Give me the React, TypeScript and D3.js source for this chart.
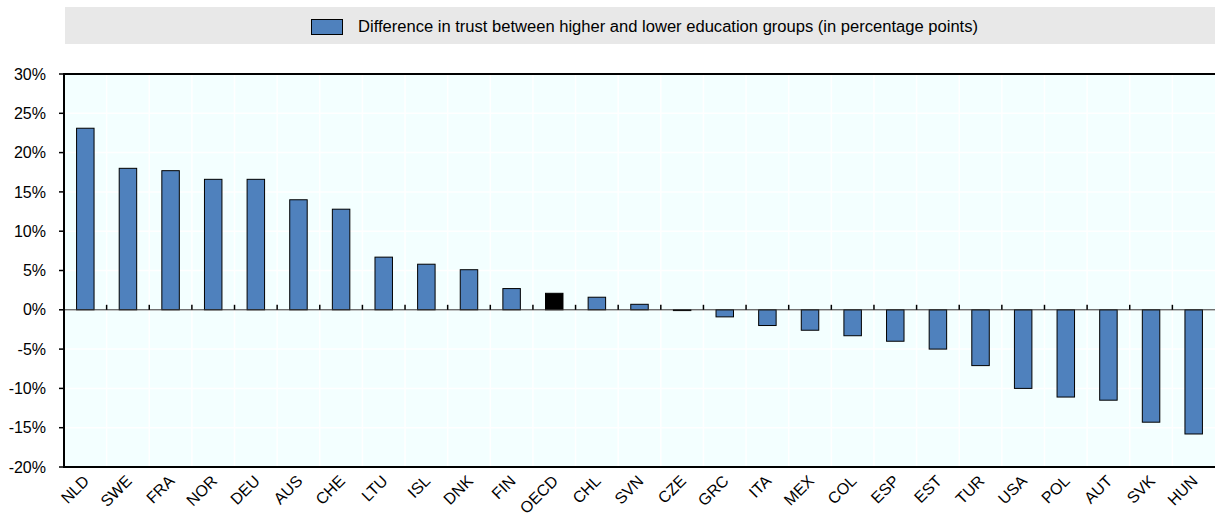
import { useEffect, useRef } from "react";
import * as d3 from "d3";

const categories = ["NLD", "SWE", "FRA", "NOR", "DEU", "AUS", "CHE", "LTU", "ISL", "DNK", "FIN", "OECD", "CHL", "SVN", "CZE", "GRC", "ITA", "MEX", "COL", "ESP", "EST", "TUR", "USA", "POL", "AUT", "SVK", "HUN"];
const values = [23.1, 18.0, 17.7, 16.6, 16.6, 14.0, 12.8, 6.7, 5.8, 5.1, 2.7, 2.1, 1.6, 0.7, -0.1, -0.9, -2.0, -2.6, -3.3, -4.0, -5.0, -7.1, -10.0, -11.1, -11.5, -14.3, -15.8];
const yTicks = [-20, -15, -10, -5, 0, 5, 10, 15, 20, 25, 30];
const legendLabel = "Difference in trust between higher and lower education groups (in percentage points)";

export default function App() {
  const svgRef = useRef<SVGSVGElement | null>(null);

  useEffect(() => {
    const width = 1215;
    const height = 513;
    const margin = { top: 74, right: 0, bottom: 46, left: 64 };
    const font = "'Liberation Sans', Arial, sans-serif";

    const svg = d3.select(svgRef.current).attr("width", width).attr("height", height);
    svg.selectAll("*").remove();

    // legend
    svg.append("rect").attr("x", 65).attr("y", 7).attr("width", 1150).attr("height", 37).attr("fill", "#e8e8e8");
    svg.append("rect").attr("x", 311.5).attr("y", 19.5).attr("width", 31).attr("height", 15)
      .attr("fill", "#4f81bd").attr("stroke", "#000").attr("stroke-width", 1);
    svg.append("text").attr("x", 358).attr("y", 32).attr("font-family", font).attr("font-size", 16)
      .attr("fill", "#000").attr("textLength", 620).attr("lengthAdjust", "spacingAndGlyphs").text(legendLabel);

    const x = d3.scaleBand().domain(categories).range([margin.left, width - margin.right]);
    const y = d3.scaleLinear().domain([-20, 30]).range([height - margin.bottom, margin.top]);

    const chart = svg.append("g");
    chart.append("rect").attr("x", margin.left).attr("y", margin.top)
      .attr("width", width - margin.left - margin.right).attr("height", height - margin.top - margin.bottom)
      .attr("fill", "#f3ffff");

    // grid
    chart.selectAll("line.hg").data(yTicks).join("line").attr("class", "hg")
      .attr("x1", margin.left).attr("x2", width).attr("y1", d => y(d)).attr("y2", d => y(d))
      .attr("stroke", "#fff").attr("stroke-width", 1.5);
    chart.selectAll("line.vg").data(categories.slice(1)).join("line").attr("class", "vg")
      .attr("x1", d => x(d)!).attr("x2", d => x(d)!).attr("y1", margin.top).attr("y2", height - margin.bottom)
      .attr("stroke", "#fff").attr("stroke-width", 1.5);

    // bars
    const bw = x.bandwidth() * 0.41;
    chart.selectAll("rect.bar").data(values).join("rect").attr("class", "bar")
      .attr("x", (_, i) => x(categories[i])! + (x.bandwidth() - bw) / 2)
      .attr("y", d => y(Math.max(0, d)))
      .attr("width", bw)
      .attr("height", d => Math.abs(y(d) - y(0)))
      .attr("fill", (_, i) => categories[i] === "OECD" ? "#000" : "#4f81bd")
      .attr("stroke", "#000").attr("stroke-width", 1);

    // zero line and ticks
    chart.append("line").attr("x1", margin.left).attr("x2", width).attr("y1", y(0)).attr("y2", y(0))
      .attr("stroke", "#333").attr("stroke-width", 1);
    chart.selectAll("line.tk").data(categories.slice(1)).join("line").attr("class", "tk")
      .attr("x1", d => x(d)!).attr("x2", d => x(d)!).attr("y1", y(0)).attr("y2", y(0) - 5)
      .attr("stroke", "#000").attr("stroke-width", 1.5);

    // frame
    chart.append("line").attr("x1", margin.left).attr("x2", width).attr("y1", margin.top).attr("y2", margin.top)
      .attr("stroke", "#000").attr("stroke-width", 2);
    chart.append("line").attr("x1", margin.left).attr("x2", width).attr("y1", height - margin.bottom).attr("y2", height - margin.bottom)
      .attr("stroke", "#000").attr("stroke-width", 2);
    chart.append("line").attr("x1", margin.left).attr("x2", margin.left).attr("y1", margin.top - 1).attr("y2", height - margin.bottom + 1)
      .attr("stroke", "#000").attr("stroke-width", 2);

    // y labels
    chart.selectAll("line.ytk").data(yTicks).join("line").attr("class", "ytk")
      .attr("x1", margin.left - 5).attr("x2", margin.left).attr("y1", d => y(d)).attr("y2", d => y(d))
      .attr("stroke", "#000").attr("stroke-width", 1.5);
    chart.selectAll("text.yl").data(yTicks).join("text").attr("class", "yl")
      .attr("x", 46).attr("y", d => y(d)).attr("dy", "0.35em").attr("text-anchor", "end")
      .attr("font-family", font).attr("font-size", 16).attr("fill", "#000")
      .text(d => `${d}%`);

    // x labels
    chart.selectAll("text.xl").data(categories).join("text").attr("class", "xl")
      .attr("transform", d => `translate(${x(d)! + x.bandwidth() / 2 + 1},${height - margin.bottom + 11}) rotate(-45)`)
      .attr("text-anchor", "end").attr("dy", "0.35em")
      .attr("font-family", font).attr("font-size", 16).attr("fill", "#000")
      .text(d => d);
  }, []);

  return (
    <div style={{ position: "absolute", left: 0, top: 0 }}>
      <svg ref={svgRef}></svg>
    </div>
  );
}
